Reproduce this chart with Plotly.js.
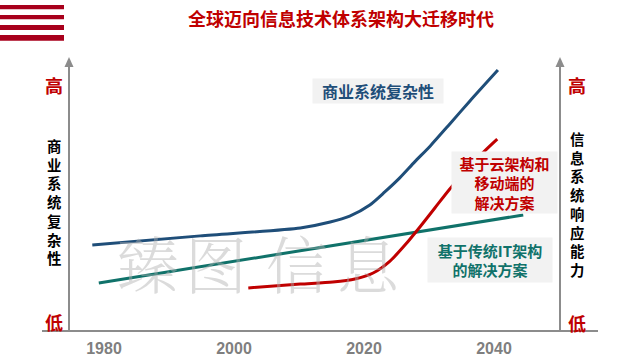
<!DOCTYPE html>
<html>
<head>
<meta charset="utf-8">
<script src="https://cdn.plot.ly/plotly-3.0.1.min.js"></script>
<style>html,body{margin:0;padding:0;background:#fff;}#chart{width:640px;height:360px;}</style>
</head>
<body>
<div id="chart"></div>
<script>
// ---- data ----
const xTicks = [1980, 2000, 2020, 2040];
const xTickLabels = ['1980', '2000', '2020', '2040'];

const bizYears = [1978.2, 1994.8, 2010.2, 2014.8, 2017.8, 2020.9, 2023.2, 2025.5, 2027.8, 2030.2, 2033.2, 2036.3, 2040.6];
const bizValues = [31.7, 35.1, 38.0, 40.2, 42.4, 46.5, 51.3, 56.5, 62.4, 68.3, 76.4, 84.9, 96.3];

const itYears = [1979.2, 2044.5];
const itValues = [17.7, 42.8];

const cloudYears = [2002.2, 2010.2, 2015.2, 2018.6, 2021.4, 2024.0, 2026.3, 2028.6, 2030.9, 2033.2, 2036.3, 2038.9, 2040.5];
const cloudValues = [15.9, 17.3, 18.1, 19.2, 21.4, 25.8, 31.7, 38.4, 45.4, 52.4, 60.9, 67.2, 70.8];

const titleText = '全球迈向信息技术体系架构大迁移时代';
const leftAxisText = '商业系统复杂性';
const rightAxisText = '信息系统响应能力';
const highText = '高';
const lowText = '低';
const bizLabel = '商业系统复杂性';
const cloudLabel = '基于云架构和<br>移动端的<br>解决方案';
const itLabel = '基于传统IT架构<br>的解决方案';
const watermark = ['臻', '图', '信', '息'];

// ---- layout helpers ----
const W = 640, H = 360;
const L = 69, R = 560, T = 60, B = 331;
const px = x => (x - L) / (R - L);
const py = y => (B - y) / (B - T);

const FONT = '"Noto Sans CJK SC", "Noto Sans", sans-serif';
const GRAY = '#8c8c8c';
const BLUE = '#1f4e79';
const TEAL = '#10726a';
const RED = '#c00000';

const traces = [
  {x: itYears, y: itValues, mode: 'lines', line: {color: TEAL, width: 3}, hoverinfo: 'skip'},
  {x: bizYears, y: bizValues, mode: 'lines', line: {color: BLUE, width: 3, shape: 'spline', smoothing: 0.7}, hoverinfo: 'skip'},
  {x: cloudYears, y: cloudValues, mode: 'lines', line: {color: RED, width: 3, shape: 'spline', smoothing: 0.7}, hoverinfo: 'skip'}
];

const shapes = [];
// red stripes top-left
[[5, 9.3], [15, 19.3], [25, 30], [35, 40.7]].forEach(s => {
  shapes.push({type: 'rect', xref: 'paper', yref: 'paper', x0: px(0), x1: px(64), y0: py(s[1]), y1: py(s[0]),
    fillcolor: '#a8001c', line: {width: 0}, layer: 'above'});
});
// baseline
shapes.push({type: 'line', xref: 'paper', yref: 'paper', x0: px(42), x1: px(598), y0: 0, y1: 0, line: {color: GRAY, width: 2}});
// vertical axes with arrows
[L, R].forEach(xx => {
  shapes.push({type: 'line', xref: 'paper', yref: 'paper', x0: px(xx), x1: px(xx), y0: 0, y1: py(64), line: {color: GRAY, width: 2}});
  shapes.push({type: 'path', xref: 'paper', yref: 'paper',
    path: `M ${px(xx)} ${py(57)} L ${px(xx - 4.5)} ${py(67)} L ${px(xx + 4.5)} ${py(67)} Z`,
    fillcolor: GRAY, line: {width: 0}});
});

const annotations = [];
// watermark
const wmX = [148, 216, 297, 368];
watermark.forEach((c, i) => {
  annotations.push({xref: 'paper', yref: 'paper', x: px(wmX[i]), y: py(262), text: c, showarrow: false,
    xanchor: 'center', yanchor: 'middle', font: {family: '"Noto Serif CJK SC", "Noto Sans CJK SC", serif', size: 62, color: 'rgba(175,175,175,0.45)', weight: 300}});
});
// vertical stacked axis titles (one character per line)
function stack(text, xc, yc) {
  annotations.push({xref: 'paper', yref: 'paper', x: px(xc), y: py(yc), text: Array.from(text).join('<br>'), showarrow: false,
    xanchor: 'center', yanchor: 'middle', borderpad: 0, font: {family: FONT, size: 14.4, color: '#000', weight: 'bold'}});
}
stack(leftAxisText, 54, 201);
stack(rightAxisText, 577, 204);
[[54, 85, highText], [54, 322, lowText], [577, 85, highText], [577, 323, lowText]].forEach(a => {
  annotations.push({xref: 'paper', yref: 'paper', x: px(a[0]), y: py(a[1]), text: a[2], showarrow: false,
    xanchor: 'center', yanchor: 'middle', font: {family: FONT, size: 18, color: RED, weight: 'bold'}});
});
// series labels
annotations.push({xref: 'paper', yref: 'paper', x: px(378), y: py(91), text: bizLabel, showarrow: false,
  xanchor: 'center', yanchor: 'middle', bgcolor: '#f2f2f2', width: 128, height: 22, borderpad: 1,
  font: {family: FONT, size: 16, color: BLUE, weight: 'bold'}});
annotations.push({xref: 'paper', yref: 'paper', x: px(504.5), y: py(182.5), text: cloudLabel, showarrow: false,
  xanchor: 'center', yanchor: 'middle', bgcolor: '#f2f2f2', width: 103, height: 59, borderpad: 1,
  font: {family: FONT, size: 15, color: RED, weight: 'bold'}});
annotations.push({xref: 'paper', yref: 'paper', x: px(490), y: py(260), text: itLabel, showarrow: false,
  xanchor: 'center', yanchor: 'middle', bgcolor: '#f2f2f2', width: 122, height: 42, borderpad: 1,
  font: {family: FONT, size: 15, color: TEAL, weight: 'bold'}});

const xMin = 1980 - (104 - L) / 6.5;
const xMax = 1980 + (R - 104) / 6.5;

const layout = {
  width: W, height: H,
  margin: {l: L, r: W - R, t: T, b: H - B, pad: 0},
  paper_bgcolor: '#fff', plot_bgcolor: '#fff',
  showlegend: false,
  title: {text: titleText, x: 341 / W, xanchor: 'center', y: 1 - 20 / H, yanchor: 'middle', yref: 'container',
    font: {family: FONT, size: 18, color: RED, weight: 'bold'}},
  xaxis: {range: [xMin, xMax], tickvals: xTicks, ticktext: xTickLabels, showgrid: false, zeroline: false, showline: false,
    ticks: '', ticklabelstandoff: 6, tickfont: {family: '"Liberation Sans", "Noto Sans", sans-serif', size: 16, color: '#7f7f7f', weight: 'bold'}},
  yaxis: {range: [0, 100], showgrid: false, zeroline: false, showline: false, showticklabels: false, ticks: ''},
  shapes: shapes,
  annotations: annotations
};

Plotly.newPlot('chart', traces, layout, {displayModeBar: false, staticPlot: true});
</script>
</body>
</html>
